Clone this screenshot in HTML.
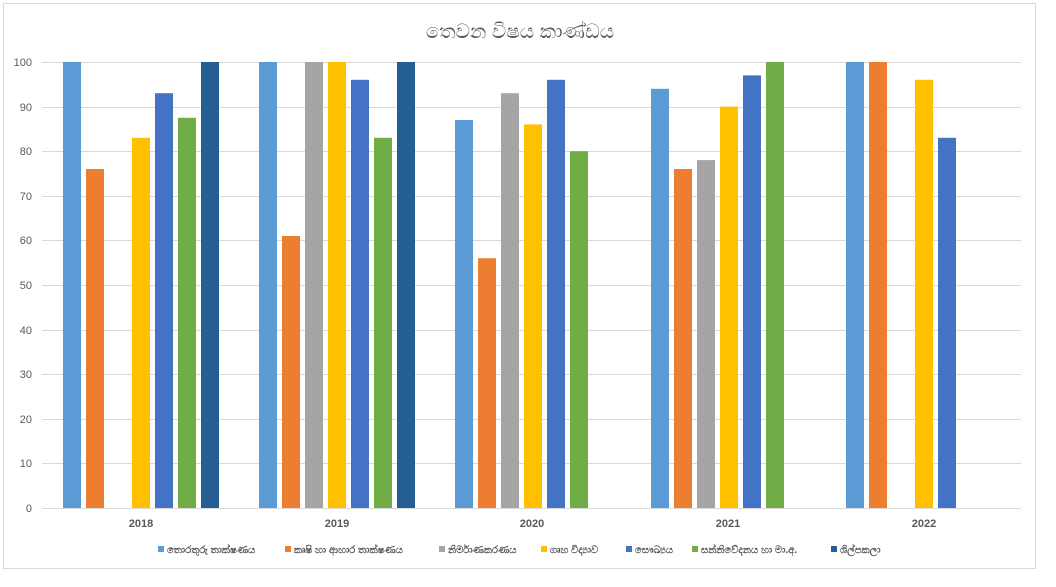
<!DOCTYPE html>
<html><head><meta charset="utf-8"><style>
body{margin:0;background:#fff;}
svg{display:block;font-family:"Liberation Sans","Noto Sans CJK SC",sans-serif;}
</style></head><body>
<svg width="1056" height="587" viewBox="0 0 1056 587">
<rect x="3.5" y="3.5" width="1032" height="565" fill="#fff" stroke="#d9d9d9"/>
<text x="520" y="38" text-anchor="middle" font-size="20" fill="#595959">තෙවන විෂය කාණ්ඩය</text>
<g stroke="#d9d9d9" stroke-width="1">
<line x1="42" x2="1021" y1="62.5" y2="62.5"/><line x1="42" x2="1021" y1="107.5" y2="107.5"/>
<line x1="42" x2="1021" y1="151.5" y2="151.5"/><line x1="42" x2="1021" y1="196.5" y2="196.5"/>
<line x1="42" x2="1021" y1="240.5" y2="240.5"/><line x1="42" x2="1021" y1="285.5" y2="285.5"/>
<line x1="42" x2="1021" y1="330.5" y2="330.5"/><line x1="42" x2="1021" y1="374.5" y2="374.5"/>
<line x1="42" x2="1021" y1="419.5" y2="419.5"/><line x1="42" x2="1021" y1="463.5" y2="463.5"/>
<line x1="42" x2="1021" y1="508.5" y2="508.5"/>
</g>
<g font-size="11" fill="#595959" text-anchor="end">
<text x="32" y="66">100</text><text x="32" y="111">90</text><text x="32" y="155">80</text>
<text x="32" y="200">70</text><text x="32" y="244">60</text><text x="32" y="289">50</text>
<text x="32" y="334">40</text><text x="32" y="378">30</text><text x="32" y="423">20</text>
<text x="32" y="467">10</text><text x="32" y="512">0</text>
</g>
<g font-size="11" font-weight="bold" fill="#595959" text-anchor="middle">
<text x="141" y="527">2018</text><text x="337" y="527">2019</text><text x="532" y="527">2020</text>
<text x="728" y="527">2021</text><text x="924" y="527">2022</text>
</g>
<rect x="63" y="62" width="18" height="446" fill="#5B9BD5"/>
<rect x="86" y="169" width="18" height="339" fill="#ED7D31"/>
<rect x="132" y="137.8" width="18" height="370.2" fill="#FFC000"/>
<rect x="155" y="93.2" width="18" height="414.8" fill="#4472C4"/>
<rect x="178" y="117.8" width="18" height="390.2" fill="#70AD47"/>
<rect x="201" y="62" width="18" height="446" fill="#255E91"/>
<rect x="259" y="62" width="18" height="446" fill="#5B9BD5"/>
<rect x="282" y="236" width="18" height="272" fill="#ED7D31"/>
<rect x="305" y="62" width="18" height="446" fill="#A5A5A5"/>
<rect x="328" y="62" width="18" height="446" fill="#FFC000"/>
<rect x="351" y="79.8" width="18" height="428.2" fill="#4472C4"/>
<rect x="374" y="137.8" width="18" height="370.2" fill="#70AD47"/>
<rect x="397" y="62" width="18" height="446" fill="#255E91"/>
<rect x="455" y="120" width="18" height="388" fill="#5B9BD5"/>
<rect x="478" y="258.2" width="18" height="249.8" fill="#ED7D31"/>
<rect x="501" y="93.2" width="18" height="414.8" fill="#A5A5A5"/>
<rect x="524" y="124.4" width="18" height="383.6" fill="#FFC000"/>
<rect x="547" y="79.8" width="18" height="428.2" fill="#4472C4"/>
<rect x="570" y="151.2" width="18" height="356.8" fill="#70AD47"/>
<rect x="651" y="88.8" width="18" height="419.2" fill="#5B9BD5"/>
<rect x="674" y="169" width="18" height="339" fill="#ED7D31"/>
<rect x="697" y="160.1" width="18" height="347.9" fill="#A5A5A5"/>
<rect x="720" y="106.6" width="18" height="401.4" fill="#FFC000"/>
<rect x="743" y="75.4" width="18" height="432.6" fill="#4472C4"/>
<rect x="766" y="62" width="18" height="446" fill="#70AD47"/>
<rect x="846" y="62" width="18" height="446" fill="#5B9BD5"/>
<rect x="869" y="62" width="18" height="446" fill="#ED7D31"/>
<rect x="915" y="79.8" width="18" height="428.2" fill="#FFC000"/>
<rect x="938" y="137.8" width="18" height="370.2" fill="#4472C4"/>
<g font-size="10" font-weight="bold" fill="#595959">
<rect x="158" y="546" width="6" height="6" fill="#5B9BD5"/><text x="167" y="553">තොරතුරු තාක්ෂණය</text>
<rect x="285" y="546" width="6" height="6" fill="#ED7D31"/><text x="294" y="553">කෘෂි හා ආහාර තාක්ෂණය</text>
<rect x="439" y="546" width="6" height="6" fill="#A5A5A5"/><text x="448" y="553">නිර්මාණකරණය</text>
<rect x="541" y="546" width="6" height="6" fill="#FFC000"/><text x="550" y="553">ගෘහ විද්‍යාව</text>
<rect x="626" y="546" width="6" height="6" fill="#4472C4"/><text x="635" y="553">සෞඛ්‍යය</text>
<rect x="692" y="546" width="6" height="6" fill="#70AD47"/><text x="701" y="553">සන්නිවේදනය හා මා.අ.</text>
<rect x="831" y="546" width="6" height="6" fill="#255E91"/><text x="840" y="553">ශිල්පකලා</text>
</g>
</svg>
</body></html>
